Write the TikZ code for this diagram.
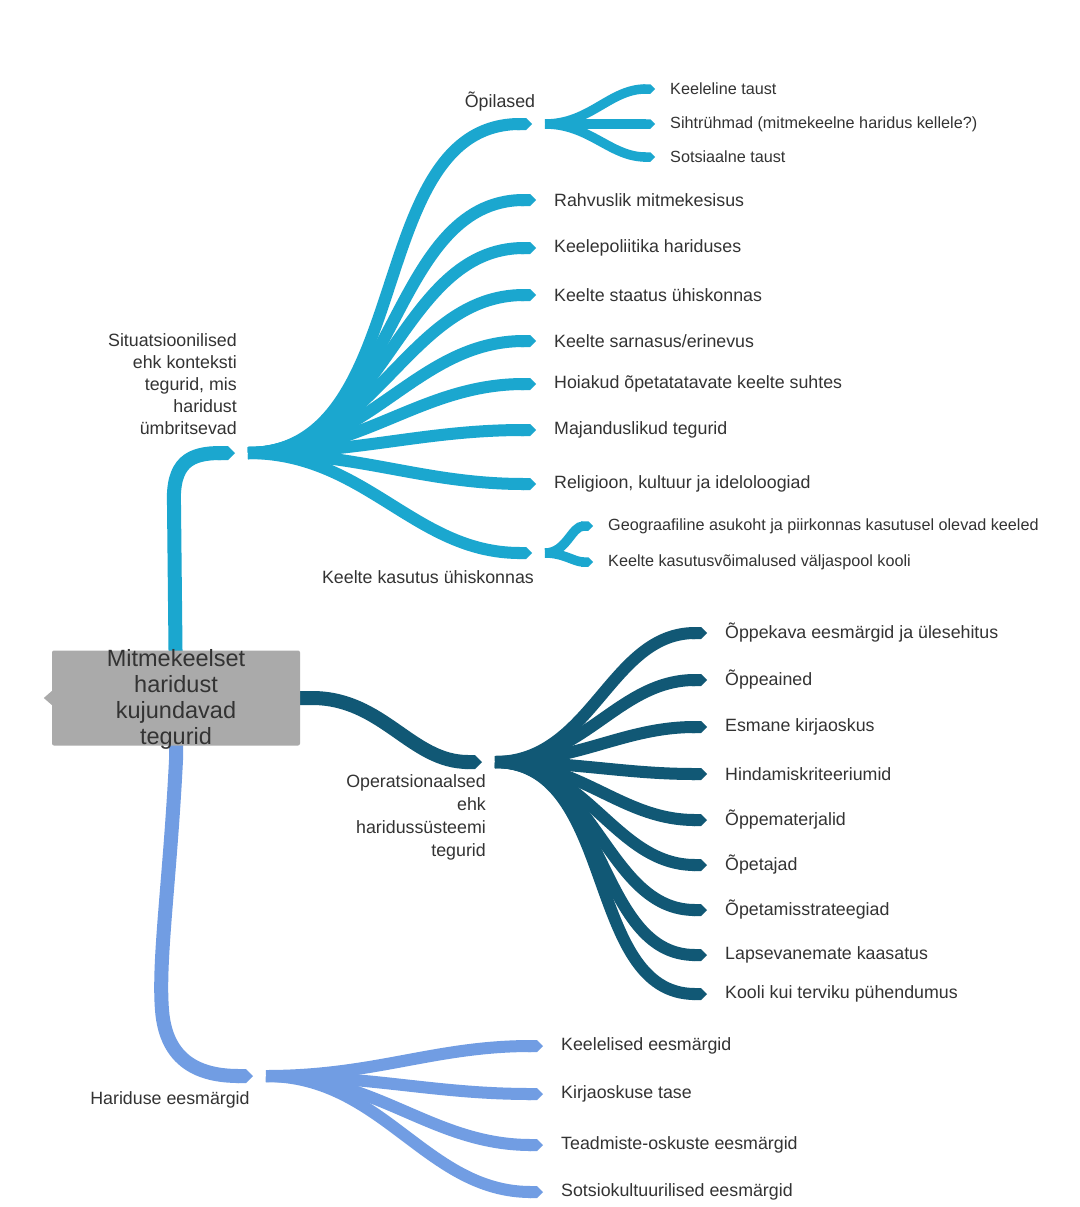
\documentclass[tikz,border=0pt]{standalone}
\usepackage{fontspec}
\setmainfont{Liberation Sans}
\usetikzlibrary{positioning,calc,arrows.meta}
\definecolor{cyanb}{RGB}{27,167,207}
\definecolor{darkb}{RGB}{17,88,117}
\definecolor{lightb}{RGB}{113,157,227}
\definecolor{boxgray}{RGB}{170,170,170}
\definecolor{txtgray}{RGB}{51,51,51}

\begin{document}
\begin{tikzpicture}[x=1pt,y=-1pt,
    lbl/.style={anchor=west, inner sep=0pt, text=txtgray, font=\fontsize{17.8}{22}\selectfont},
    smalllbl/.style={lbl, font=\fontsize{16.2}{20}\selectfont},
    grouplbl/.style={inner sep=0pt, text=txtgray, font=\fontsize{17.8}{22}\selectfont},
    rootbox/.style={fill=boxgray, rounded corners=2pt, minimum width=248pt, minimum height=95pt, inner sep=0pt},
    roottext/.style={align=center, text=txtgray, font=\fontsize{23.5}{26}\selectfont, inner sep=0pt},
    trunk/.style={line width=14pt, -{Triangle Cap[]}},
    twig/.style={line width=12pt, -{Triangle Cap[]}},
    smalltwig/.style={line width=9.5pt, -{Triangle Cap[]}}]
    \useasboundingbox[fill=white] (0,0) rectangle (1079,1207);

    % Main trunks
    \coordinate (rootc) at (176,698);
    \coordinate (sitEnd) at (235,453);
    \coordinate (sitHub) at (248,453);
    \coordinate (opEnd) at (482,762);
    \coordinate (opHub) at (495,762);
    \coordinate (harEnd) at (253,1076);
    \coordinate (harHub) at (266,1076);
    \draw[trunk, cyanb] (rootc) -- (174,505) .. controls (172,462) and (190,453) .. (sitEnd);
    \draw[trunk, darkb] (rootc) -- (312,698) to[out=0,in=180] (opEnd);
    \draw[trunk, lightb] (rootc) -- (176,760) .. controls (170,880) and (158,960) .. (162,1010)
        .. controls (166,1062) and (200,1076) .. (harEnd);

    % Central box
    \node[rootbox] (root) at (rootc) {};
    \fill[boxgray] (root.west) ++(0,-7) -- ++(-8,7) -- ++(8,7) -- cycle;
    \node[roottext] (roottxt) at (176,699) {Mitmekeelset\\haridust\\kujundavad\\tegurid};

    % Situational factors
    \node[grouplbl, anchor=north east, align=right] (sit) at (237,333)
        {Situatsioonilised\\ehk konteksti\\tegurid, mis\\haridust\\ümbritsevad};
    \coordinate (opilEnd) at (532,124);
    \coordinate (opilHub) at (545,124);
    \coordinate (kasEnd) at (532,553);
    \coordinate (kasHub) at (545,553);
    \node[grouplbl] (opil) at (500,102) {Õpilased};
    \node[grouplbl] (kas) at (428,577) {Keelte kasutus ühiskonnas};
    \node[lbl] (rahv) at (554,200) {Rahvuslik mitmekesisus};
    \node[lbl] (pol) at (554,248) {Keelepoliitika hariduses};
    \node[lbl] (staat) at (554,295) {Keelte staatus ühiskonnas};
    \node[lbl] (sarn) at (554,341) {Keelte sarnasus/erinevus};
    \node[lbl] (hoi) at (554,384) {Hoiakud õpetatatavate keelte suhtes};
    \node[lbl] (maj) at (554,430) {Majanduslikud tegurid};
    \node[lbl] (rel) at (554,484) {Religioon, kultuur ja ideloloogiad};
    \node[smalllbl] (keel) at (670,89) {Keeleline taust};
    \node[smalllbl] (siht) at (670,124) {Sihtrühmad (mitmekeelne haridus kellele?)};
    \node[smalllbl] (sots) at (670,157) {Sotsiaalne taust};
    \node[smalllbl] (geo) at (608,526) {Geograafiline asukoht ja piirkonnas kasutusel olevad keeled};
    \node[smalllbl] (voim) at (608,562) {Keelte kasutusvõimalused väljaspool kooli};

    \draw[twig, cyanb] (sitHub) to[out=0,in=180] (opilEnd);
    \draw[twig, cyanb] (sitHub) to[out=0,in=180] ([xshift=-18pt]rahv.west);
    \draw[twig, cyanb] (sitHub) to[out=0,in=180] ([xshift=-18pt]pol.west);
    \draw[twig, cyanb] (sitHub) to[out=0,in=180] ([xshift=-18pt]staat.west);
    \draw[twig, cyanb] (sitHub) to[out=0,in=180] ([xshift=-18pt]sarn.west);
    \draw[twig, cyanb] (sitHub) to[out=0,in=180] ([xshift=-18pt]hoi.west);
    \draw[twig, cyanb] (sitHub) to[out=0,in=180] ([xshift=-18pt]maj.west);
    \draw[twig, cyanb] (sitHub) to[out=0,in=180] ([xshift=-18pt]rel.west);
    \draw[twig, cyanb] (sitHub) to[out=0,in=180] (kasEnd);
    \draw[smalltwig, cyanb] (opilHub) to[out=0,in=180] ([xshift=-15pt]keel.west);
    \draw[smalltwig, cyanb] (opilHub) to[out=0,in=180] ([xshift=-15pt]siht.west);
    \draw[smalltwig, cyanb] (opilHub) to[out=0,in=180] ([xshift=-15pt]sots.west);
    \draw[smalltwig, cyanb] (kasHub) to[out=0,in=180] ([xshift=-15pt]geo.west);
    \draw[smalltwig, cyanb] (kasHub) to[out=0,in=180] ([xshift=-15pt]voim.west);

    % Operational factors
    \node[grouplbl, anchor=north east, align=right, font=\fontsize{17.8}{23}\selectfont] (op) at (486,774)
        {Operatsionaalsed\\ehk\\haridussüsteemi\\tegurid};
    \node[lbl] (kava) at (725,633) {Õppekava eesmärgid ja ülesehitus};
    \node[lbl] (aine) at (725,680) {Õppeained};
    \node[lbl] (esm) at (725,727) {Esmane kirjaoskus};
    \node[lbl] (hind) at (725,774) {Hindamiskriteeriumid};
    \node[lbl] (mat) at (725,820) {Õppematerjalid};
    \node[lbl] (opet) at (725,865) {Õpetajad};
    \node[lbl] (strat) at (725,910) {Õpetamisstrateegiad};
    \node[lbl] (laps) at (725,955) {Lapsevanemate kaasatus};
    \node[lbl] (kool) at (725,994) {Kooli kui terviku pühendumus};
    \draw[twig, darkb] (opHub) to[out=0,in=180] ([xshift=-18pt]kava.west);
    \draw[twig, darkb] (opHub) to[out=0,in=180] ([xshift=-18pt]aine.west);
    \draw[twig, darkb] (opHub) to[out=0,in=180] ([xshift=-18pt]esm.west);
    \draw[twig, darkb] (opHub) to[out=0,in=180] ([xshift=-18pt]hind.west);
    \draw[twig, darkb] (opHub) to[out=0,in=180] ([xshift=-18pt]mat.west);
    \draw[twig, darkb] (opHub) to[out=0,in=180] ([xshift=-18pt]opet.west);
    \draw[twig, darkb] (opHub) to[out=0,in=180] ([xshift=-18pt]strat.west);
    \draw[twig, darkb] (opHub) to[out=0,in=180] ([xshift=-18pt]laps.west);
    \draw[twig, darkb] (opHub) to[out=0,in=180] ([xshift=-18pt]kool.west);

    % Educational goals
    \node[grouplbl] (har) at (170,1100) {Hariduse eesmärgid};
    \node[lbl] (kgoal) at (561,1046) {Keelelised eesmärgid};
    \node[lbl] (kirj) at (561,1094) {Kirjaoskuse tase};
    \node[lbl] (tead) at (561,1145) {Teadmiste-oskuste eesmärgid};
    \node[lbl] (sgoal) at (561,1192) {Sotsiokultuurilised eesmärgid};
    \draw[twig, lightb] (harHub) to[out=0,in=180] ([xshift=-18pt]kgoal.west);
    \draw[twig, lightb] (harHub) to[out=0,in=180] ([xshift=-18pt]kirj.west);
    \draw[twig, lightb] (harHub) to[out=0,in=180] ([xshift=-18pt]tead.west);
    \draw[twig, lightb] (harHub) to[out=0,in=180] ([xshift=-18pt]sgoal.west);
\end{tikzpicture}
\end{document}
